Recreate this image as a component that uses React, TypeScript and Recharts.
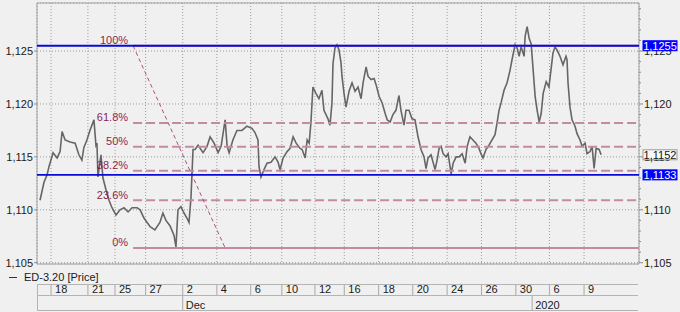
import { ComposedChart, Line, XAxis, YAxis, CartesianGrid, ReferenceLine, ReferenceArea } from "recharts";

const FONT = '"Liberation Sans", Arial, sans-serif';

// bar time (trading-time units across the window) and close price
const barTime = [
  1.2, 2.8, 4.0, 4.8, 6.4, 8.0, 9.2, 10.0, 11.2, 13.2,
  15.2, 16.7, 17.9, 18.7, 19.9, 21.1, 22.7, 23.5, 23.9, 24.3,
  25.5, 26.3, 27.5, 28.7, 29.9, 31.5, 33.1, 34.7, 36.3, 37.9,
  39.9, 41.1, 42.7, 45.1, 47.0, 49.0, 50.2, 51.4, 53.0, 54.6,
  55.4, 56.2, 57.4, 58.6, 59.8, 60.6, 61.4, 62.2, 63.0, 64.2,
  66.2, 67.8, 69.0, 70.6, 72.2, 73.4, 75.0, 75.8, 76.6, 78.1,
  79.7, 81.7, 83.7, 85.7, 86.9, 88.1, 88.5, 89.3, 90.5, 91.7,
  93.3, 94.9, 96.1, 96.9, 98.1, 99.7, 100.9, 102.1, 103.3, 104.9,
  105.7, 106.9, 107.7, 108.5, 109.2, 110.0, 111.2, 112.4, 113.6, 114.4,
  116.0, 116.8, 117.6, 118.0, 118.8, 119.6, 120.4, 121.2, 121.6, 122.4,
  123.2, 124.4, 125.6, 126.8, 128.0, 129.2, 130.0, 131.2, 132.0, 133.2,
  134.4, 135.2, 136.4, 137.6, 138.8, 139.6, 140.8, 141.9, 143.1, 144.3,
  145.1, 146.3, 147.1, 148.3, 149.5, 150.7, 151.9, 153.1, 154.3, 155.1,
  155.9, 157.1, 157.9, 158.7, 159.5, 160.3, 161.1, 161.9, 163.1, 163.9,
  165.1, 165.9, 167.1, 168.3, 169.5, 170.7, 171.5, 172.6, 173.8, 175.0,
  176.2, 177.0, 177.8, 179.0, 180.2, 181.4, 182.6, 183.4, 184.2, 185.0,
  186.2, 187.4, 188.6, 189.4, 190.6, 191.4, 192.2, 193.0, 194.2, 194.6,
  195.4, 196.2, 197.0, 197.8, 198.6, 199.4, 200.2, 201.0, 201.8, 203.0,
  204.1, 204.9, 205.7, 206.5, 207.3, 208.5, 209.7, 210.9, 211.3, 211.7,
  212.5, 213.3, 214.5, 215.3, 216.5, 217.3, 218.5, 219.3, 220.5, 221.3,
  222.1, 222.9, 224.1, 224.9,
];

const closes = [
  1.1109, 1.1126, 1.1133, 1.1141, 1.1154, 1.1149, 1.1155, 1.1174, 1.1166, 1.1164,
  1.1163, 1.1152, 1.1147, 1.1159, 1.1166, 1.1175, 1.1185, 1.1161, 1.1163, 1.1131,
  1.1152, 1.1130, 1.1119, 1.1109, 1.1102, 1.1095, 1.1100, 1.1102, 1.1098, 1.1102,
  1.1102, 1.1100, 1.1092, 1.1084, 1.1081, 1.1088, 1.1097, 1.1090, 1.1085, 1.1076,
  1.1065, 1.1100, 1.1103, 1.1097, 1.1092, 1.1088, 1.1112, 1.1157, 1.1157, 1.1161,
  1.1154, 1.1160, 1.1169, 1.1163, 1.1154, 1.1160, 1.1185, 1.1160, 1.1154, 1.1166,
  1.1175, 1.1175, 1.1179, 1.1177, 1.1173, 1.1166, 1.1141, 1.1131, 1.1138, 1.1144,
  1.1145, 1.1150, 1.1145, 1.1138, 1.1149, 1.1155, 1.1158, 1.1169, 1.1163, 1.1158,
  1.1157, 1.1149, 1.1166, 1.1163, 1.1182, 1.1216, 1.1210, 1.1205, 1.1213, 1.1194,
  1.1186, 1.1180, 1.1201, 1.1238, 1.1253, 1.1256, 1.1251, 1.1239, 1.1226, 1.1210,
  1.1197, 1.1212, 1.1220, 1.1212, 1.1216, 1.1205, 1.1220, 1.1235, 1.1226, 1.1223,
  1.1224, 1.1218, 1.1207, 1.1201, 1.1191, 1.1185, 1.1183, 1.1190, 1.1194, 1.1208,
  1.1194, 1.1180, 1.1194, 1.1194, 1.1186, 1.1185, 1.1169, 1.1157, 1.1150, 1.1139,
  1.1149, 1.1152, 1.1145, 1.1138, 1.1147, 1.1158, 1.1160, 1.1153, 1.1150, 1.1153,
  1.1134, 1.1144, 1.1150, 1.1150, 1.1153, 1.1144, 1.1160, 1.1169, 1.1166, 1.1163,
  1.1158, 1.1153, 1.1149, 1.1157, 1.1161, 1.1166, 1.1171, 1.1182, 1.1194, 1.1201,
  1.1213, 1.1220, 1.1232, 1.1242, 1.1256, 1.1253, 1.1245, 1.1254, 1.1245, 1.1264,
  1.1273, 1.1262, 1.1257, 1.1232, 1.1207, 1.1194, 1.1183, 1.1191, 1.1210, 1.1221,
  1.1216, 1.1232, 1.1248, 1.1254, 1.1251, 1.1245, 1.1237, 1.1245, 1.1242, 1.1220,
  1.1197, 1.1185, 1.1179, 1.1172, 1.1166, 1.1160, 1.1163, 1.1153, 1.1155, 1.1160,
  1.1139, 1.1158, 1.1157, 1.1152,
];

const dayTicks = [5.6, 20.3, 31.1, 43.3, 58.1, 71.7, 85.2, 97.6, 110.8, 122.5, 136.2, 149.8, 163.5, 177.2, 190.9, 204.3, 218.1];
const dayLabels = ["18", "21", "25", "27", "2", "4", "6", "10", "12", "16", "18", "20", "24", "26", "30", "6", "9"];
const monthTicks = [58.1, 197.4];
const monthLabels = ["Dec", "2020"];

const priceTicks = [1.105, 1.11, 1.115, 1.12, 1.125];
const minorTicks = [
  1.105, 1.106, 1.107, 1.108, 1.109, 1.11, 1.111, 1.112, 1.113, 1.114, 1.115, 1.116, 1.117,
  1.118, 1.119, 1.12, 1.121, 1.122, 1.123, 1.124, 1.125, 1.126, 1.127, 1.128, 1.129,
];

// fibonacci retracement drawing
const fibHigh = 1.1255;
const fibLow = 1.1064;
const fibStart = 38.3;
const fibLowTime = 75;
const fibLevels = [0, 0.236, 0.382, 0.5, 0.618, 1];
const fibLabels = ["0%", "23.6%", "38.2%", "50%", "61.8%", "100%"];

const supportLevel = 1.1133;
const lastPrice = 1.1152;

const Y_DOMAIN = [1.10488, 1.12954];
const T_END = 240;

const FIB_LINE = "#c28ba3";
const FIB_TEXT = "#8b1f52";
const BLUE = "#0a0ad8";

const data = barTime.map((t, i) => ({ t, price: closes[i] }));

const fmt = (v: number, d = 3) => v.toFixed(d).replace(".", ",");

const LeftTick = ({ x, y, payload }: any) => (
  <g>
    <line x1={x - 3} x2={x} y1={y} y2={y} stroke="#8c8c8c" />
    <text x={x - 4} y={y} dy={4} textAnchor="end" fontSize={11} fill="#1a1a1a" fontFamily={FONT}>
      {fmt(payload.value)}
    </text>
  </g>
);

// right axis draws only the tick marks; its labels come from reference lines so the value boxes can sit on top
const RightTick = ({ x, y, payload }: any) => {
  const major = priceTicks.some((p) => Math.abs(p - payload.value) < 1e-7);
  return <line x1={x} x2={x + (major ? 4 : 2)} y1={y} y2={y} stroke="#8c8c8c" />;
};

const RightLabel = ({ viewBox, value }: any) => (
  <text x={viewBox.x + viewBox.width + 5} y={viewBox.y} dy={4} fontSize={11} fill="#1a1a1a" fontFamily={FONT}>
    {fmt(value)}
  </text>
);

const DayTick = ({ x, y, payload }: any) => (
  <g>
    <line x1={x} x2={x} y1={y + 20} y2={y + 31} stroke="#a8a8a8" />
    <text x={x + 4} y={y + 28.5} fontSize={11} fill="#1a1a1a" fontFamily={FONT}>
      {dayLabels[dayTicks.indexOf(payload.value)]}
    </text>
  </g>
);

const MonthTick = ({ x, y, payload }: any) => (
  <g>
    <line x1={x} x2={x} y1={y - 1} y2={y + 15} stroke="#a8a8a8" />
    <text x={x + 3} y={y + 12.5} fontSize={11} fill="#1a1a1a" fontFamily={FONT}>
      {monthLabels[monthTicks.indexOf(payload.value)]}
    </text>
  </g>
);

const FibLabel = ({ viewBox, text }: any) => (
  <text x={viewBox.x - 5} y={viewBox.y - 1.5} textAnchor="end" fontSize={11} fill={FIB_TEXT} fontFamily={FONT}>
    {text}
  </text>
);

const PriceBox = ({ viewBox, text, fill, color, border }: any) => {
  const bx = viewBox.x + viewBox.width + 4;
  return (
    <g>
      <rect x={bx} y={viewBox.y - 5} width={34} height={10} fill={fill} stroke={border} />
      <text x={bx + 17} y={viewBox.y} dy={4} textAnchor="middle" fontSize={11} fill={color} fontFamily={FONT}>
        {text}
      </text>
    </g>
  );
};

export default function App() {
  return (
    <div style={{ position: "absolute", left: 0, top: 0, width: 680, height: 312, background: "#f0f0f0", fontFamily: FONT }}>
      <ComposedChart width={680} height={312} data={data} margin={{ top: 3, right: 0, bottom: 0, left: 0 }}>
        <CartesianGrid stroke="#9c9c9c" strokeDasharray="1 2" />
        <XAxis
          dataKey="t"
          type="number"
          domain={[0, T_END]}
          allowDataOverflow
          ticks={dayTicks}
          interval={0}
          height={32}
          axisLine={false}
          tickLine={false}
          tickSize={0}
          tickMargin={0}
          tick={<DayTick />}
        />
        <XAxis
          xAxisId="month"
          dataKey="t"
          type="number"
          domain={[0, T_END]}
          allowDataOverflow
          ticks={monthTicks}
          interval={0}
          height={16}
          axisLine={false}
          tickLine={false}
          tickSize={0}
          tickMargin={0}
          tick={<MonthTick />}
        />
        <YAxis
          type="number"
          domain={Y_DOMAIN}
          allowDataOverflow
          ticks={priceTicks}
          interval={0}
          width={37}
          axisLine={false}
          tickLine={false}
          tickSize={0}
          tickMargin={0}
          tick={<LeftTick />}
        />
        <YAxis
          yAxisId="right"
          orientation="right"
          type="number"
          domain={Y_DOMAIN}
          allowDataOverflow
          ticks={minorTicks}
          interval={0}
          width={41}
          axisLine={false}
          tickLine={false}
          tickSize={0}
          tickMargin={0}
          tick={<RightTick />}
        />
        <ReferenceArea x1={0} x2={T_END} y1={Y_DOMAIN[0]} y2={Y_DOMAIN[1]} fill="none" stroke="#a0a0a0" />
        <Line
          xAxisId="month"
          yAxisId="right"
          dataKey="price"
          stroke="none"
          dot={false}
          isAnimationActive={false}
        />
        <Line
          dataKey="price"
          type="linear"
          stroke="#666666"
          strokeWidth={1.6}
          dot={false}
          isAnimationActive={false}
        />
        {priceTicks.map((v) => (
          <ReferenceLine
            key={`lbl-${v}`}
            y={v}
            stroke="transparent"
            label={(p: any) => <RightLabel {...p} value={v} />}
          />
        ))}
        {fibLevels.map((r, i) => {
          const v = fibLow + r * (fibHigh - fibLow);
          return (
            <ReferenceLine
              key={fibLabels[i]}
              segment={[{ x: fibStart, y: v }, { x: T_END, y: v }]}
              stroke={FIB_LINE}
              strokeWidth={2}
              strokeDasharray={r === 0 || r === 1 ? undefined : "9 4"}
              label={(p: any) => <FibLabel {...p} text={fibLabels[i]} />}
            />
          );
        })}
        <ReferenceLine
          segment={[{ x: fibStart, y: fibHigh }, { x: fibLowTime, y: fibLow }]}
          stroke="#b24f7c"
          strokeWidth={1}
          strokeDasharray="4 3"
        />
        <ReferenceLine
          y={lastPrice}
          stroke="transparent"
          label={(p: any) => <PriceBox {...p} text={fmt(lastPrice, 4)} fill="#f8f8f8" color="#111" border="#9a9a9a" />}
        />
        <ReferenceLine
          y={fibHigh}
          stroke={BLUE}
          strokeWidth={2}
          label={(p: any) => <PriceBox {...p} text={fmt(fibHigh, 4)} fill="#0000ff" color="#ffffff" border="#0000ff" />}
        />
        <ReferenceLine
          y={supportLevel}
          stroke={BLUE}
          strokeWidth={1.8}
          label={(p: any) => <PriceBox {...p} text={fmt(supportLevel, 4)} fill="#0000ff" color="#ffffff" border="#0000ff" />}
        />
      </ComposedChart>
      <div style={{ position: "absolute", left: 9, top: 277, width: 8, borderTop: "1px solid #333" }} />
      <div style={{ position: "absolute", left: 24, top: 271, fontSize: 11, lineHeight: "13px", color: "#1a1a1a" }}>
        ED-3.20 [Price]
      </div>
      <div style={{ position: "absolute", left: 37, top: 284, width: 601, height: 0, borderTop: "1px solid #b4b4b4" }} />
      <div style={{ position: "absolute", left: 37, top: 295, width: 601, height: 0, borderTop: "1px solid #b4b4b4" }} />
      <div style={{ position: "absolute", left: 37, top: 310, width: 601, height: 0, borderTop: "1px solid #b4b4b4" }} />
      <div style={{ position: "absolute", left: 37, top: 284, width: 0, height: 27, borderLeft: "1px solid #b4b4b4" }} />
    </div>
  );
}
